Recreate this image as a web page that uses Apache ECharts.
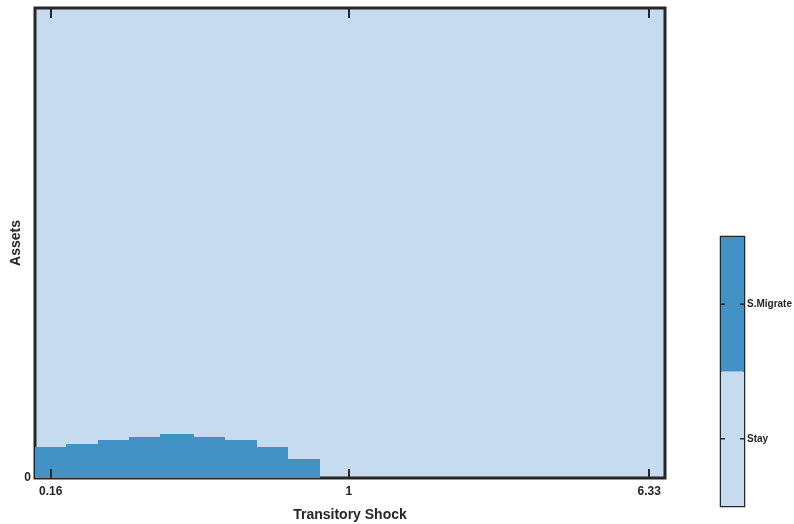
<!DOCTYPE html>
<html>
<head>
<meta charset="utf-8">
<script src="https://cdn.jsdelivr.net/npm/echarts@6/dist/echarts.min.js"></script>
<style>
  html, body { margin: 0; padding: 0; background: #fff; }
  #chart { width: 794px; height: 524px; }
</style>
</head>
<body>
<div id="chart"></div>
<script>
// shock grid (log spaced)
const shocks = [0.160, 0.194, 0.236, 0.286, 0.347, 0.421, 0.511, 0.620, 0.753, 0.914,
                1.109, 1.346, 1.633, 1.982, 2.405, 2.919, 3.542, 4.299, 5.217, 6.331];
// asset threshold below which the household migrates (share of asset range)
const migrateUpTo = [6.66, 7.23, 8.09, 8.72, 9.36, 8.72, 8.09, 6.66, 4.04, 0,
                     0, 0, 0, 0, 0, 0, 0, 0, 0, 0];
const xTickValues = [0.16, 1, 6.33];
const xTickLabels = ["0.16", "1", "6.33"];
const statusNames = ["Stay", "S.Migrate"];
const statusColors = ["#c6dbef", "#4292c6"];
const assetMax = 100;

const INK = "#262626";
const FONT = "Liberation Sans";

const logShocks = shocks.map(s => Math.log(s));
const half = (logShocks[logShocks.length - 1] - logShocks[0]) / (logShocks.length - 1) / 2;
const tickLogs = xTickValues.map(v => Math.log(v));
const statusMid = statusNames.map((n, i) => i + 0.5);

function tickLabel(v) {
  let best = 0;
  tickLogs.forEach((t, i) => { if (Math.abs(t - v) < Math.abs(tickLogs[best] - v)) best = i; });
  return xTickLabels[best];
}

const chart = echarts.init(document.getElementById("chart"));

const option = {
  animation: false,
  backgroundColor: "#fff",
  grid: [
    {
      left: 35, right: 129, top: 8, bottom: 46,
      containLabel: false, outerBoundsMode: "none",
      show: true, backgroundColor: statusColors[0],
      borderColor: INK, borderWidth: 3, z: 0
    },
    {
      left: 721, width: 23, top: 237, height: 269,
      containLabel: false, outerBoundsMode: "none",
      show: true, backgroundColor: "transparent",
      borderColor: INK, borderWidth: 2.5
    }
  ],
  xAxis: [
    {
      gridIndex: 0, type: "value", zlevel: 1,
      min: logShocks[0] - half, max: logShocks[logShocks.length - 1] + half,
      name: "Transitory Shock", nameLocation: "middle", nameGap: 30,
      nameTextStyle: { fontFamily: FONT, fontWeight: "bold", fontSize: 14, color: INK },
      axisLine: { show: false },
      splitLine: { show: false },
      axisTick: { show: true, inside: true, length: 9, customValues: tickLogs,
                  lineStyle: { color: INK, width: 2 } },
      axisLabel: { show: true, customValues: tickLogs, margin: 8, formatter: tickLabel,
                   fontFamily: FONT, fontWeight: "bold", fontSize: 12, color: INK }
    },
    {
      gridIndex: 0, type: "value", position: "top", zlevel: 1,
      min: logShocks[0] - half, max: logShocks[logShocks.length - 1] + half,
      axisLine: { show: false },
      splitLine: { show: false },
      axisTick: { show: true, inside: true, length: 10, customValues: tickLogs,
                  lineStyle: { color: INK, width: 2 } },
      axisLabel: { show: false }
    },
    {
      gridIndex: 1, type: "value", min: 0, max: 1, show: false
    }
  ],
  yAxis: [
    {
      gridIndex: 0, type: "value", min: 0, max: assetMax,
      name: "Assets", nameLocation: "middle", nameGap: 12, nameMoveOverlap: false,
      nameTextStyle: { fontFamily: FONT, fontWeight: "bold", fontSize: 14, color: INK },
      axisLine: { show: false },
      splitLine: { show: false },
      axisTick: { show: false },
      axisLabel: { show: true, customValues: [0], margin: 4,
                   fontFamily: FONT, fontWeight: "bold", fontSize: 12, color: INK }
    },
    {
      gridIndex: 1, type: "value", min: 0, max: statusNames.length, position: "right",
      axisLine: { show: false },
      splitLine: { show: false },
      axisTick: { show: false },
      axisLabel: { show: true, customValues: statusMid, margin: 3,
                   formatter: v => statusNames[Math.floor(v)],
                   fontFamily: FONT, fontWeight: "bold", fontSize: 10, color: INK }
    }
  ],
  series: [
    {
      name: "S.Migrate",
      type: "custom",
      xAxisIndex: 0, yAxisIndex: 0,
      clip: true,
      data: logShocks.map((x, i) => [x, migrateUpTo[i]]),
      renderItem: function (params, api) {
        const x = api.value(0), y = api.value(1);
        if (!(y > 0)) return null;
        const p0 = api.coord([x - half, y]);
        const p1 = api.coord([x + half, 0]);
        const left = Math.floor(p0[0]);
        const top = Math.round(p0[1]);
        return {
          type: "rect",
          shape: { x: left, y: top, width: Math.ceil(p1[0]) - left + 1, height: p1[1] - top },
          style: { fill: statusColors[1] }
        };
      }
    },
    {
      // colorbar segments with their centre ticks on both edges
      name: "colorbar",
      type: "custom",
      xAxisIndex: 2, yAxisIndex: 1,
      data: statusNames.map((n, i) => [i]),
      renderItem: function (params, api) {
        const i = api.value(0);
        const p0 = api.coord([0, i + 1]);
        const p1 = api.coord([1, i]);
        const mid = api.coord([0, i + 0.5])[1];
        const tick = { stroke: INK, lineWidth: 1.5 };
        return {
          type: "group",
          children: [
            { type: "rect",
              shape: { x: p0[0], y: p0[1], width: p1[0] - p0[0], height: p1[1] - p0[1] },
              style: { fill: statusColors[i] } },
            { type: "line", z2: 5,
              shape: { x1: p0[0], y1: mid, x2: p0[0] + 4, y2: mid }, style: tick },
            { type: "line", z2: 5,
              shape: { x1: p1[0] - 4, y1: mid, x2: p1[0], y2: mid }, style: tick }
          ]
        };
      }
    }
  ]
};

chart.setOption(option);
</script>
</body>
</html>
